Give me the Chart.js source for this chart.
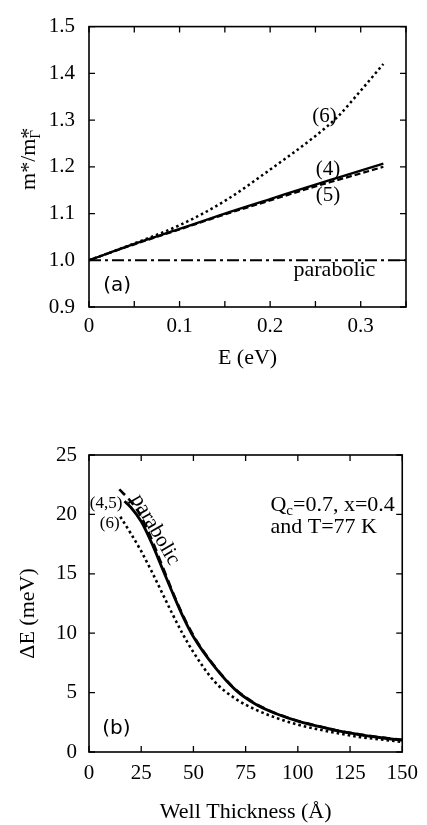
<!DOCTYPE html>
<html>
<head>
<meta charset="utf-8">
<script src="https://cdn.jsdelivr.net/npm/chart.js@4.4.0/dist/chart.umd.min.js"></script>
<style>
  html, body { margin: 0; padding: 0; background: #fff; }
  #wrap { position: relative; width: 427px; height: 825px; }
  canvas { position: absolute; left: 0; }
  #massChart { top: 0; }
  #splitChart { top: 400px; }
</style>
</head>
<body>
<div id="wrap">
  <canvas id="massChart" width="427" height="400"></canvas>
  <canvas id="splitChart" width="427" height="425"></canvas>
</div>
<script>
// (a) effective mass ratio vs energy
const energy = [0, 0.05, 0.1, 0.15, 0.2, 0.25, 0.275, 0.3, 0.325];
const mass4 = [1.0, 1.035, 1.067, 1.1, 1.131, 1.162, 1.177, 1.192, 1.207];
const mass5 = [1.0, 1.034, 1.066, 1.098, 1.128, 1.158, 1.172, 1.186, 1.2];
const mass6 = [1.0, 1.036, 1.075, 1.127, 1.194, 1.266, 1.308, 1.363, 1.42];
const energyParabolic = [0, 0.35];
const massParabolic = [1.0, 1.0];
const energyTicks = [0, 0.05, 0.1, 0.15, 0.2, 0.25, 0.3, 0.35];
const energyLabels = ['0', '', '0.1', '', '0.2', '', '0.3', ''];
const massTicks = [0.9, 1.0, 1.1, 1.2, 1.3, 1.4, 1.5];
const massLabels = ['0.9', '1.0', '1.1', '1.2', '1.3', '1.4', '1.5'];

// (b) splitting vs well thickness
const width45 = [17, 20, 25, 30, 35, 40, 45, 50, 60, 70, 80, 90, 100, 110, 120, 130, 140, 150];
const split45 = [21.1, 20.6, 19.4, 17.6, 15.5, 13.4, 11.4, 9.7, 7.2, 5.25, 4.0, 3.2, 2.6, 2.15, 1.75, 1.45, 1.2, 1.0];
const width6 = [15, 20, 25, 30, 35, 40, 45, 50, 60, 70, 80, 90, 100, 110, 120, 130, 140, 150];
const split6 = [19.8, 18.4, 16.9, 15.2, 13.4, 11.6, 9.9, 8.4, 5.95, 4.5, 3.55, 2.85, 2.3, 1.9, 1.55, 1.25, 1.05, 0.85];
const widthPara = [14.5, 20, 25, 30, 35, 40, 45, 50, 60, 70, 80, 90, 100, 110, 120, 130, 140, 150];
const splitPara = [22.1, 21.1, 19.8, 17.9, 15.7, 13.5, 11.5, 9.8, 7.25, 5.3, 4.05, 3.22, 2.62, 2.17, 1.77, 1.47, 1.22, 1.02];
const widthTicks = [0, 25, 50, 75, 100, 125, 150];
const widthLabels = ['0', '25', '50', '75', '100', '125', '150'];
const splitTicks = [0, 5, 10, 15, 20, 25];
const splitLabels = ['0', '5', '10', '15', '20', '25'];

const SERIF = '"Liberation Serif", "Times New Roman", serif';
const SANS = '"DejaVu Sans", sans-serif';

Chart.defaults.font.family = SERIF;
Chart.defaults.color = '#000';

// notes placed in data units
const massNotes = [
  { text: '(6)', x: 0.26, y: 1.308, font: '21px ' + SERIF },
  { text: '(4)', x: 0.264, y: 1.195, font: '21px ' + SERIF },
  { text: '(5)', x: 0.264, y: 1.138, font: '21px ' + SERIF },
  { text: 'parabolic', x: 0.271, y: 0.979, font: '22px ' + SERIF },
  { text: '(a)', x: 0.031, y: 0.945, font: '20px ' + SANS },
];
const splitNotes = [
  { text: '(4,5)', x: 8.2, y: 20.93, font: '17px ' + SERIF },
  { text: '(6)', x: 9.9, y: 19.19, font: '17px ' + SERIF },
  { text: 'parabolic', x: 31.8, y: 18.7, font: '21px ' + SERIF, angle: 60 },
  { parts: [['Q', 0], ['c', 4], ['=0.7, x=0.4', 0]], x: 86.9, y: 20.31, font: '22px ' + SERIF, align: 'left', baseline: 'alphabetic' },
  { text: 'and T=77 K', x: 86.9, y: 18.41, font: '22px ' + SERIF, align: 'left', baseline: 'alphabetic' },
  { text: '(b)', x: 13.1, y: 1.94, font: '20px ' + SANS },
];

function pts(xs, ys) {
  return xs.map((v, i) => ({ x: v, y: ys[i] }));
}

function drawNote(chart, n) {
  const { ctx, scales: { x, y } } = chart;
  ctx.save();
  ctx.fillStyle = '#000';
  ctx.font = n.font;
  ctx.textAlign = n.align || 'center';
  ctx.textBaseline = n.baseline || 'middle';
  ctx.translate(x.getPixelForValue(n.x), y.getPixelForValue(n.y));
  if (n.angle) ctx.rotate(n.angle * Math.PI / 180);
  if (n.parts) {
    let cx = 0;
    n.parts.forEach(([t, sub]) => {
      ctx.font = sub ? '15px ' + SERIF : n.font;
      ctx.fillText(t, cx, sub);
      cx += ctx.measureText(t).width;
    });
  } else {
    ctx.fillText(n.text, 0, 0);
  }
  ctx.restore();
}

// box, inward ticks on all sides, notes, y title
function framePlugin(notes, drawTitle) {
  return {
    id: 'frame',
    afterDatasetsDraw(chart) {
      const { ctx, chartArea: a, scales: { x, y } } = chart;
      ctx.save();
      ctx.strokeStyle = '#000';
      ctx.lineWidth = 1.6;
      ctx.strokeRect(a.left, a.top, a.right - a.left, a.bottom - a.top);
      ctx.lineWidth = 1.3;
      ctx.beginPath();
      x.ticks.forEach(t => {
        const p = x.getPixelForValue(t.value);
        ctx.moveTo(p, a.bottom); ctx.lineTo(p, a.bottom - 6);
        ctx.moveTo(p, a.top); ctx.lineTo(p, a.top + 6);
      });
      y.ticks.forEach(t => {
        const p = y.getPixelForValue(t.value);
        ctx.moveTo(a.left, p); ctx.lineTo(a.left + 6, p);
        ctx.moveTo(a.right, p); ctx.lineTo(a.right - 6, p);
      });
      ctx.stroke();
      ctx.restore();
      notes.forEach(n => drawNote(chart, n));
      drawTitle(ctx, a);
    }
  };
}

function massTitle(ctx, a) {
  const big = '22px ' + SERIF, small = '15px ' + SERIF;
  ctx.save();
  ctx.fillStyle = '#000';
  ctx.translate(a.left - 61, (a.top + a.bottom) / 2 - 8);
  ctx.rotate(-Math.PI / 2);
  ctx.textAlign = 'left';
  ctx.textBaseline = 'alphabetic';
  ctx.font = big;
  const wMain = ctx.measureText('m*/m').width;
  const wStar = ctx.measureText('*').width;
  ctx.font = small;
  const wG = ctx.measureText('Γ').width;
  const x0 = -(wMain + Math.max(wStar, wG)) / 2;
  ctx.font = big;
  ctx.fillText('m*/m', x0, 7);
  ctx.fillText('*', x0 + wMain, 7);
  ctx.font = small;
  ctx.fillText('Γ', x0 + wMain, 12);
  ctx.restore();
}

function splitTitle(ctx, a) {
  ctx.save();
  ctx.fillStyle = '#000';
  ctx.translate(a.left - 61, (a.top + a.bottom) / 2 + 10);
  ctx.rotate(-Math.PI / 2);
  ctx.textAlign = 'center';
  ctx.textBaseline = 'middle';
  ctx.font = '22px ' + SERIF;
  ctx.fillText('ΔE (meV)', 0, 0);
  ctx.restore();
}

function axis(min, max, ticks, labels, extra) {
  return Object.assign({
    type: 'linear',
    min: min,
    max: max,
    afterBuildTicks: s => { s.ticks = ticks.map(v => ({ value: v })); },
    grid: { display: false, drawTicks: false },
    border: { display: false },
    ticks: {
      callback: (v, i) => labels[i],
      autoSkip: false,
      maxRotation: 0,
      font: { size: 21 },
      color: '#000',
    },
  }, extra);
}

function line(data, width, dash) {
  return {
    data: data,
    borderColor: '#000',
    borderWidth: width,
    borderDash: dash,
    pointRadius: 0,
    fill: false,
    cubicInterpolationMode: 'monotone',
  };
}

const massCtx = document.getElementById('massChart').getContext('2d');
const massChart = new Chart(massCtx, {
  type: 'line',
  data: {
    datasets: [
      line(pts(energyParabolic, massParabolic), 2, [12, 4, 3, 4]),
      line(pts(energy, mass6), 2.5, [2.5, 3]),
      line(pts(energy, mass5), 2.2, [6, 3]),
      line(pts(energy, mass4), 2.3, []),
    ],
  },
  options: {
    responsive: false,
    animation: false,
    devicePixelRatio: 1,
    layout: { padding: { left: 0, right: 21, top: 11, bottom: 0 } },
    plugins: { legend: { display: false }, tooltip: { enabled: false } },
    scales: {
      x: axis(0, 0.35, energyTicks, energyLabels, {
        afterFit: s => { s.height = 93; },
        title: { display: true, text: 'E (eV)', font: { size: 22 }, color: '#000', padding: { top: 0, bottom: 29 } },
      }),
      y: axis(0.9, 1.5, massTicks, massLabels, {
        afterFit: s => { s.width = 89; },
      }),
    },
  },
  plugins: [framePlugin(massNotes, massTitle)],
});
massChart.options.scales.x.ticks.padding = 7;
massChart.options.scales.y.ticks.padding = 14;
massChart.update();

const splitCtx = document.getElementById('splitChart').getContext('2d');
const splitChart = new Chart(splitCtx, {
  type: 'line',
  data: {
    datasets: [
      line(pts(width6, split6), 2.6, [2.6, 3]),
      line(pts(width45, split45), 2.8, []),
      line(pts(widthPara, splitPara), 2.6, [8, 5]),
    ],
  },
  options: {
    responsive: false,
    animation: false,
    devicePixelRatio: 1,
    layout: { padding: { left: 0, right: 20, top: 55, bottom: 0 } },
    plugins: { legend: { display: false }, tooltip: { enabled: false } },
    scales: {
      x: axis(0, 150, widthTicks, widthLabels, {
        afterFit: s => { s.height = 73; },
        title: { display: true, text: 'Well Thickness (Å)', font: { size: 22 }, color: '#000', padding: { top: 0, bottom: 0 } },
      }),
      y: axis(0, 25, splitTicks, splitLabels, {
        afterFit: s => { s.width = 89; },
      }),
    },
  },
  plugins: [framePlugin(splitNotes, splitTitle)],
});
splitChart.options.scales.x.ticks.padding = 9;
splitChart.options.scales.y.ticks.padding = 12;
splitChart.update();
</script>
</body>
</html>
